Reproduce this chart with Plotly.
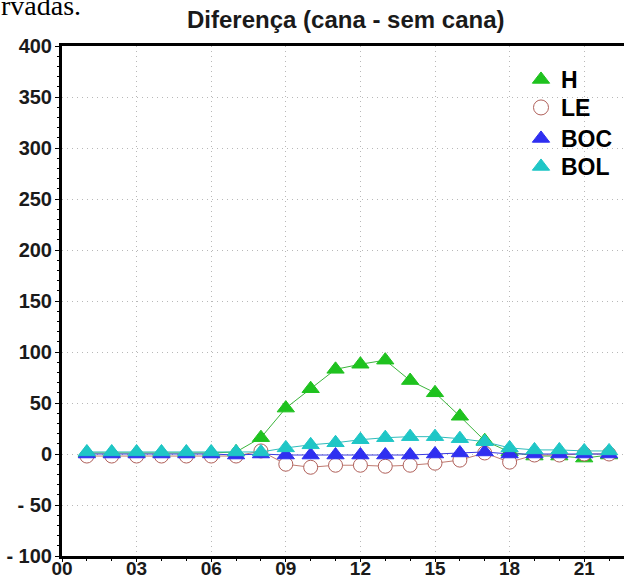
import plotly.graph_objects as go

hours = list(range(1, 23))
H   = [1, 1, 1, 1, 1, 1, 2, 16, 45, 64, 83, 88, 92, 72, 60, 37, 13, 2, -2, -2, -4, -1]
LE  = [-2, -2, -2, -2, -2, -2, -2, 3, -10, -13, -11, -11, -12, -11, -9, -6, 1, -8, -1, -1, 0, 0]
BOC = [0, 0, 0, 0, 0, 0, -1, 0, -1, -1, -1, -1, -1, -1, 0, 1, 2, 0, 0, 0, 0, 0]
BOL = [2, 2, 2, 2, 2, 2, 2, 2, 6, 9, 11, 14, 16, 17, 17, 15, 12, 6, 4, 4, 3, 3]

x_tickvals = [0, 3, 6, 9, 12, 15, 18, 21]
x_ticktext = ["00", "03", "06", "09", "12", "15", "18", "21"]
y_tickvals = [400, 350, 300, 250, 200, 150, 100, 50, 0, -50, -100]
y_ticktext = ["400", "350", "300", "250", "200", "150", "100", "50", "0", "- 50", "- 100"]

series = [
    ("H", H, "triangle-up", "#1fc21f", "#1fc21f", "#3cb43c"),
    ("LE", LE, "circle", "white", "#b0605a", "#c07a70"),
    ("BOC", BOC, "triangle-up", "#2f2ff0", "#2f2ff0", "#3a3ae0"),
    ("BOL", BOL, "triangle-up", "#1fc6c6", "#1fc6c6", "#30bcbc"),
]
legend_ids = ["legend", "legend2", "legend3", "legend4"]
legend_y_px = [58, 86, 117, 145]  # top pixel of each legend entry

fig = go.Figure()
for name, vals, sym, fill, edge, lcol in series:
    fig.add_trace(go.Scatter(
        x=hours, y=vals, mode="lines+markers", name=name, showlegend=False,
        line=dict(color=lcol, width=1),
        marker=dict(symbol=sym, size=14 if sym == "circle" else 15, color=fill,
                    line=dict(color=edge, width=1)),
        cliponaxis=False,
    ))
for (name, vals, sym, fill, edge, lcol), lid in zip(series, legend_ids):
    fig.add_trace(go.Scatter(
        x=[None], y=[None], mode="markers", name=name, legend=lid,
        marker=dict(symbol=sym, size=15, color=fill, line=dict(color=edge, width=1)),
    ))

font_family = "Liberation Sans, Arial, sans-serif"
plot_top, plot_h, plot_l, plot_w = 46, 510, 62, 562
leg_font = dict(family=font_family, size=23, color="black", weight="bold")
layout_legends = {}
for lid, ypx in zip(legend_ids, legend_y_px):
    layout_legends[lid] = dict(
        x=(521 - plot_l) / plot_w, y=(plot_top + plot_h - ypx) / plot_h,
        xanchor="left", yanchor="top", bgcolor="rgba(0,0,0,0)", borderwidth=0,
        font=leg_font, itemwidth=30,
    )

fig.update_layout(
    width=624, height=580,
    margin=dict(l=plot_l, r=0, t=plot_top, b=24),
    paper_bgcolor="white", plot_bgcolor="white",
    showlegend=True,
    **layout_legends,
    annotations=[
        dict(text="Diferença (cana - sem cana)", xref="paper", yref="paper",
             x=(345 - plot_l) / plot_w, y=(plot_top + plot_h - 20) / plot_h,
             xanchor="center", yanchor="middle", showarrow=False,
             font=dict(family=font_family, size=24, color="#1a1a1a", weight="bold")),
        dict(text="rvadas.", xref="paper", yref="paper",
             x=-0.112, y=1.046, xanchor="left", yanchor="bottom", showarrow=False,
             font=dict(family="Liberation Serif, Times New Roman, serif", size=28, color="black")),
    ],
)
fig.update_xaxes(
    range=[0, 22.6], tickvals=x_tickvals, ticktext=x_ticktext,
    showgrid=True, gridcolor="#b8b8b8", griddash="1px,4px", gridwidth=1,
    showline=True, linecolor="black", linewidth=3, mirror=True,
    ticks="outside", ticklen=3, tickcolor="black", tickwidth=1,
    minor=dict(dtick=1, ticks="outside", ticklen=2, tickcolor="black", showgrid=False),
    tickfont=dict(family=font_family, size=19, color="#1a1a1a", weight="bold"),
    ticklabelstandoff=-10,
    zeroline=False, automargin=False,
)
fig.update_yaxes(
    range=[-100, 400], tickvals=y_tickvals, ticktext=y_ticktext,
    showgrid=True, gridcolor="#b8b8b8", griddash="1px,4px", gridwidth=1,
    showline=True, linecolor="black", linewidth=3, mirror=False,
    ticks="outside", ticklen=4, tickcolor="black", tickwidth=1,
    minor=dict(dtick=10, ticks="outside", ticklen=2, tickcolor="black", showgrid=False),
    tickfont=dict(family=font_family, size=20, color="#1a1a1a", weight="bold"),
    ticklabelstandoff=-1,
    zeroline=False, automargin=False,
)

fig.write_html("out.html")
